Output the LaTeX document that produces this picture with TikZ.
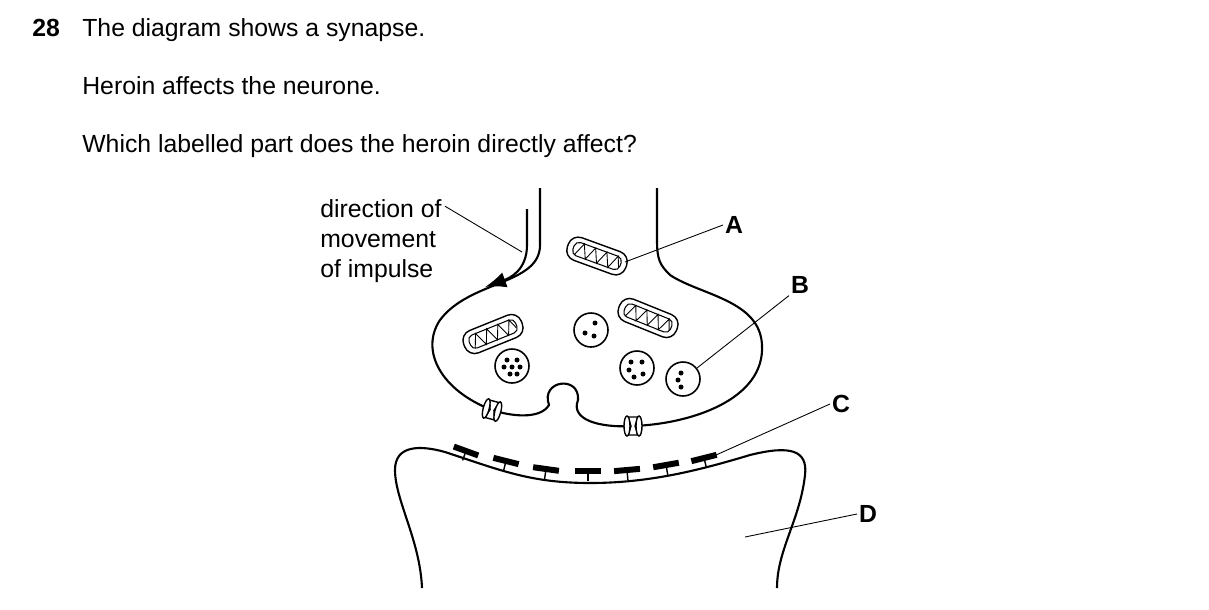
\documentclass[tikz,border=0pt]{standalone}
\usepackage{fontspec}
\setmainfont{Liberation Sans}
\usetikzlibrary{arrows.meta}
\tikzset{
	txt/.style={anchor=base west, inner sep=0pt, font=\fontsize{14.1}{17}\selectfont},
	lbl/.style={inner sep=1pt, font=\fontsize{14.1}{17}\selectfont\bfseries},
	lead/.style={line width=0.5pt},
	memb/.style={line width=1.2pt},
	pics/mito/.style={code={
		\draw[line width=0.8pt, rounded corners=6pt] (-31,-12) rectangle (31,12);
		\draw[line width=0.6pt, rounded corners=3pt] (-25,-7) rectangle (25,7);
		\draw[line width=0.5pt] (-22,7) -- (-16,-7) -- (-10,7) -- (-4,-7) -- (2,7) -- (8,-7) -- (14,7) -- (20,-7) -- (24,3);
	}},
	pics/chan/.style={code={
		\draw[line width=0.8pt, fill=white] (-5,-9) -- (5,-9) -- (2,0) -- (5,9) -- (-5,9) -- (-2,0) -- cycle;
		\draw[line width=0.8pt, fill=white] (-6,0) ellipse (3 and 10);
		\draw[line width=0.8pt, fill=white] (6,0) ellipse (3 and 10);
	}},
	pics/recep/.style={code={
		\fill (-13,-3) rectangle (13,3);
		\draw[line width=0.8pt] (0,0) -- (0,10);
	}},
	vesc/.style={line width=0.9pt}
}
\begin{document}
\begin{tikzpicture}[x=0.02cm, y=-0.02cm]
	\useasboundingbox (0,0) rectangle (1209,609);
	% question text
	\node[txt, font=\fontsize{14.1}{17}\selectfont\bfseries] (num) at (32,36) {28};
	\node[txt] (q1) at (82,36) {The diagram shows a synapse.};
	\node[txt] (q2) at (82,94) {Heroin affects the neurone.};
	\node[txt] (q3) at (82,152) {Which labelled part does the heroin directly affect?};
	\node[txt] (dir1) at (320,217) {direction of};
	\node[txt] (dir2) at (320,247) {movement};
	\node[txt] (dir3) at (320,277) {of impulse};

	% presynaptic knob
	\draw[memb] (540,188) -- (540,245) .. controls (540,285) and (470,280) .. (440,320)
		.. controls (420,350) and (440,390) .. (492,410)
		.. controls (510,416) and (540,420) .. (549,405)
		.. controls (540,380) and (580,375) .. (578,400)
		.. controls (570,420) and (600,428) .. (633,426)
		.. controls (690,424) and (765,400) .. (762,345)
		.. controls (760,300) and (700,295) .. (670,275)
		.. controls (660,265) and (657,260) .. (657,240) -- (657,188);
	\draw[memb, -{Latex[length=12, width=9]}] (527,209) -- (527,245) .. controls (527,270) and (510,278) .. (485,287);

	% mitochondria
	\pic[rotate=-20] at (597,256) {mito};
	\pic[rotate=22] at (493,334) {mito};
	\pic[rotate=-22] at (648,318) {mito};

	% vesicles
	\draw[vesc] (591,330) circle (17);
	\foreach \dx/\dy in {4/-7, -6/3, 3/6}
		\fill (591+\dx,330+\dy) circle (2.5);
	\draw[vesc] (512,366) circle (17);
	\foreach \dx/\dy in {-5/-6, 5/-6, -8/1, 0/1, 8/1, -2/8, 5/8}
		\fill (512+\dx,366+\dy) circle (2.5);
	\draw[vesc] (637,368) circle (17);
	\foreach \dx/\dy in {-6/-6, 5/-6, -8/2, -3/9, 6/6}
		\fill (637+\dx,368+\dy) circle (2.5);
	\draw[vesc] (683,379) circle (17);
	\foreach \dx/\dy in {-2/-6, -5/1, -2/8}
		\fill (683+\dx,379+\dy) circle (2.5);

	% channels
	\pic[rotate=-15] at (492,410) {chan};
	\pic at (633,426) {chan};

	% postsynaptic membrane
	\draw[memb] (422,588) .. controls (420,540) and (395,500) .. (395,470)
		.. controls (395,445) and (420,445) .. (445,452)
		.. controls (500,470) and (530,483) .. (590,483)
		.. controls (650,483) and (700,470) .. (750,455)
		.. controls (790,445) and (808,450) .. (805,475)
		.. controls (800,520) and (777,550) .. (777,588);
	\foreach \x/\y/\r in {466/451/-20, 506/461/-14, 546/469/-8, 588/471/0, 627/470/5, 666/465/10, 704/458/14}
		\pic[rotate=\r] at (\x,\y) {recep};

	% labels
	\node[lbl] (A) at (734,225) {A};
	\node[lbl] (B) at (800,285) {B};
	\node[lbl] (C) at (841,404) {C};
	\node[lbl] (D) at (868,514) {D};
	\coordinate (pA) at (625,262);
	\coordinate (pB) at (697,368);
	\coordinate (pC) at (716,455);
	\coordinate (pD) at (745,537);
	\coordinate (pdir) at (522,252);
	\draw[lead] (A.west) -- (pA);
	\draw[lead] (B.south west) -- (pB);
	\draw[lead] (C.west) -- (pC);
	\draw[lead] (D.west) -- (pD);
	\draw[lead] (dir1.east) ++(3,-2) -- (pdir);
\end{tikzpicture}
\end{document}
